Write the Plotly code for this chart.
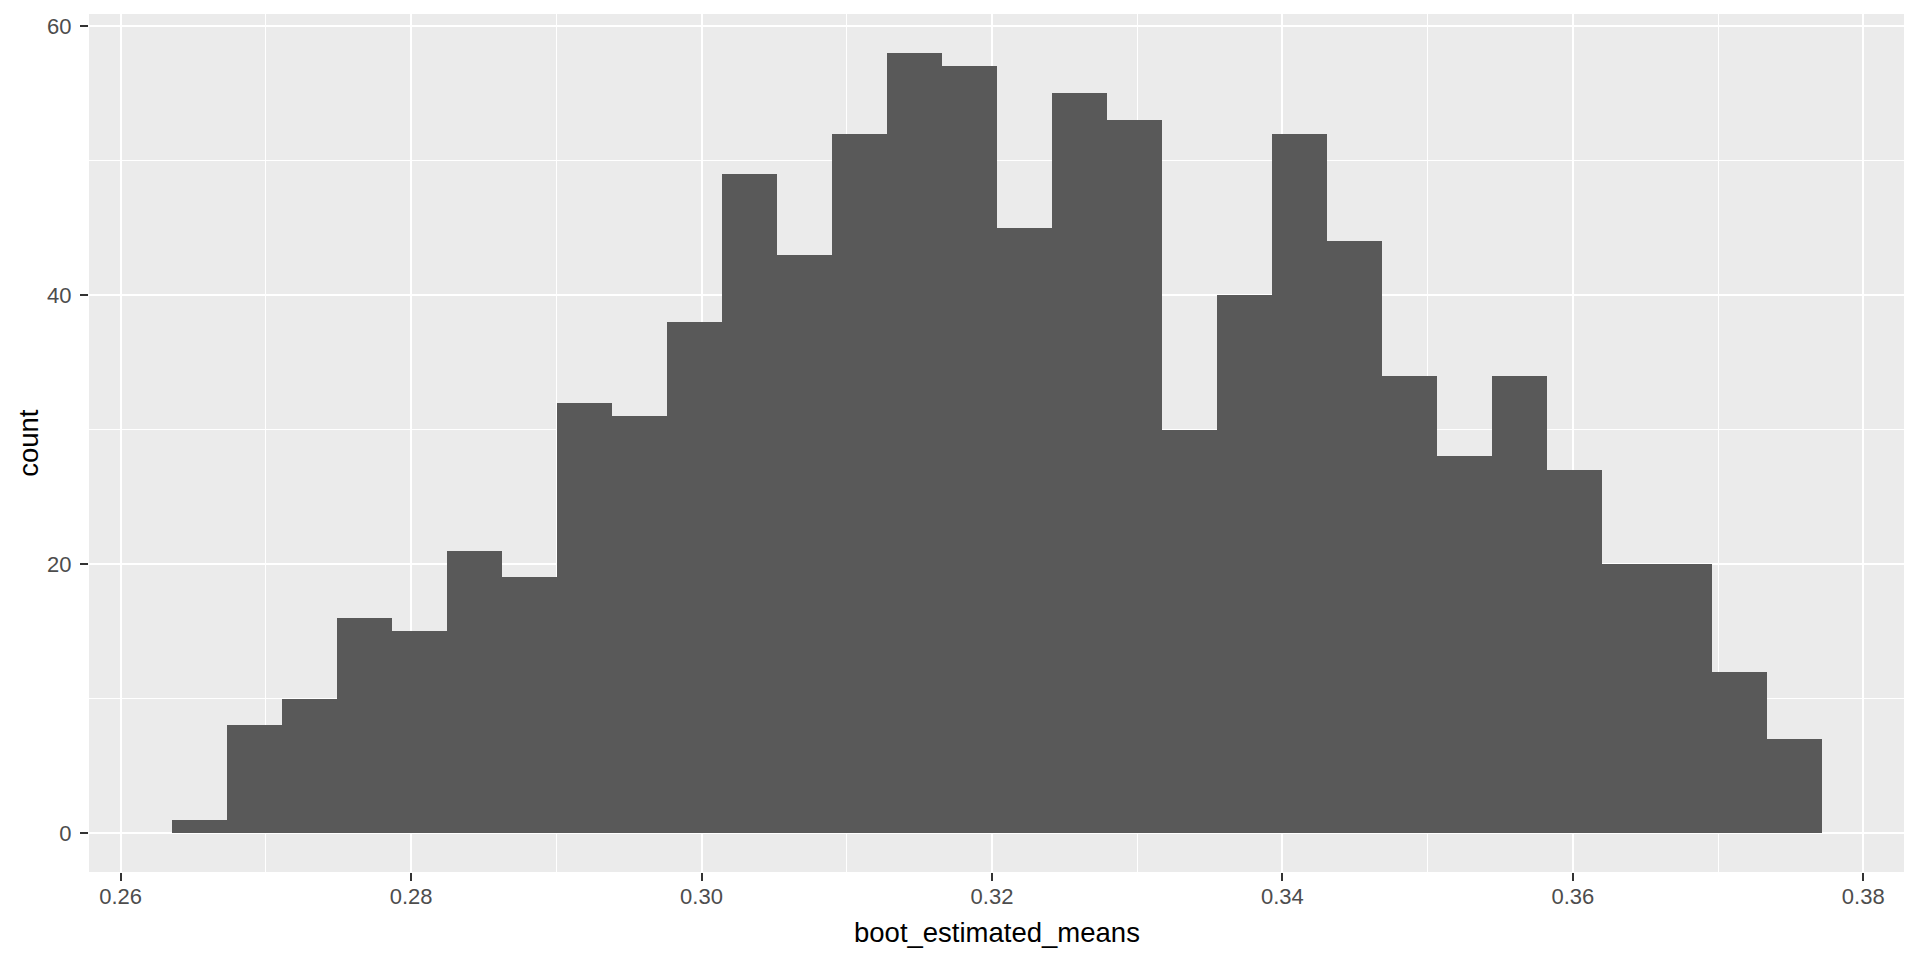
import plotly.graph_objects as go

# Histogram of bootstrap estimated means (30 bins)
counts = [1, 8, 10, 16, 15, 21, 19, 32, 31, 38, 49, 43, 52, 58, 57,
          45, 55, 53, 30, 40, 52, 44, 34, 28, 34, 27, 20, 20, 12, 7]
bin_start = 0.26350
bin_width = 0.0037875
x_tick_vals = [0.26, 0.28, 0.30, 0.32, 0.34, 0.36, 0.38]
x_tick_text = ["0.26", "0.28", "0.30", "0.32", "0.34", "0.36", "0.38"]
y_tick_vals = [0, 20, 40, 60]
x_title = "boot_estimated_means"
y_title = "count"

centers = [bin_start + bin_width * (i + 0.5) for i in range(len(counts))]
bin_end = bin_start + bin_width * len(counts)
span = bin_end - bin_start
x_range = [bin_start - 0.05 * span, bin_end + 0.05 * span]
ymax = max(counts)
y_range = [-0.05 * ymax, ymax * 1.05]

FONT = "Liberation Sans, Arial, sans-serif"

fig = go.Figure()
fig.add_trace(go.Bar(
    x=centers, y=counts, width=[bin_width] * len(counts),
    marker=dict(color="#595959", line=dict(width=0)),
    hoverinfo="x+y",
))

axis_common = dict(
    showgrid=True, gridcolor="white", gridwidth=2,
    zeroline=False, showline=False,
    ticks="outside", ticklen=8, tickwidth=2, tickcolor="#333333",
    tickfont=dict(family=FONT, size=22, color="#4D4D4D"),
)

fig.update_layout(
    width=1920, height=960,
    paper_bgcolor="white", plot_bgcolor="#EBEBEB",
    margin=dict(l=89, r=16, t=14, b=88),
    bargap=0, showlegend=False,
    xaxis=dict(range=x_range, tickvals=x_tick_vals, ticktext=x_tick_text,
               minor=dict(dtick=0.01, tick0=0.0, showgrid=True, gridcolor="white", gridwidth=1, ticks=""),
               ticklabelstandoff=-3,
               **axis_common),
    yaxis=dict(range=y_range, tickvals=y_tick_vals,
               minor=dict(tickvals=[10, 30, 50], showgrid=True, gridcolor="white", gridwidth=1, ticks=""),
               ticklabelstandoff=4,
               **axis_common),
    annotations=[
        dict(text=x_title, xref="paper", yref="paper", x=0.5, y=-0.0705,
             xanchor="center", yanchor="middle", showarrow=False,
             font=dict(family=FONT, size=27.5, color="black")),
        dict(text=y_title, xref="paper", yref="paper", x=-0.0337, y=0.5,
             xanchor="center", yanchor="middle", showarrow=False, textangle=-90,
             font=dict(family=FONT, size=27.5, color="black")),
    ],
)

fig.write_html("out.html", config={"displayModeBar": False},
               post_script="document.body.style.margin='0';document.body.style.overflow='hidden';")
